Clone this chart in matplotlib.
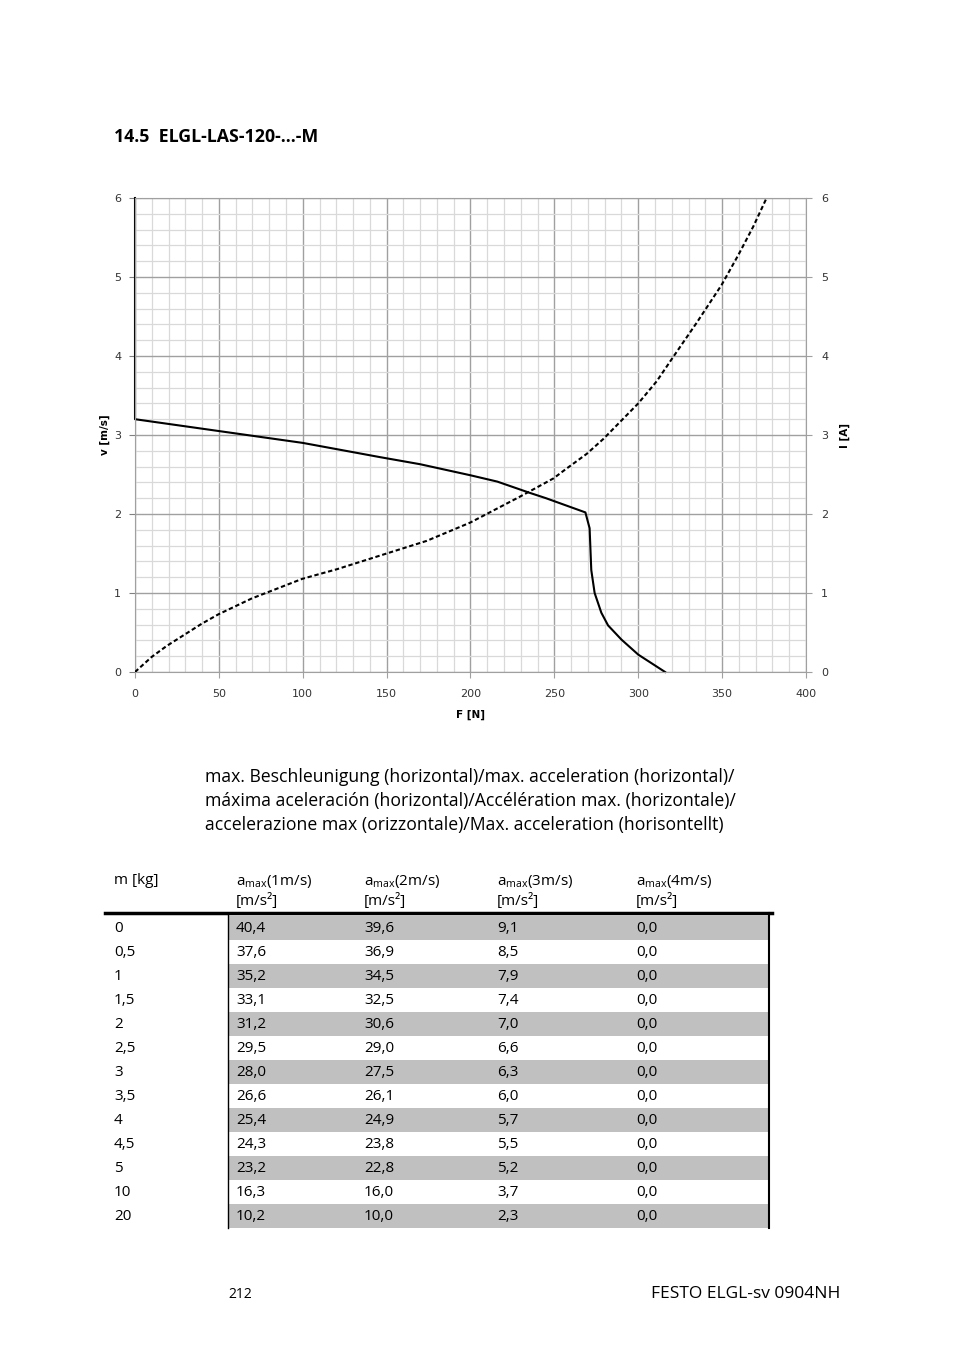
import matplotlib
matplotlib.use("Agg")
import matplotlib.pyplot as plt
from matplotlib.ticker import MultipleLocator

plt.rcParams['font.family'] = ['Open Sans', 'DejaVu Sans']
plt.rcParams['mathtext.fontset'] = 'custom'
plt.rcParams['mathtext.rm'] = 'Open Sans'
plt.rcParams['mathtext.it'] = 'Open Sans'

# speed curve v(F)
force_v = [0, 0, 50, 100, 146, 170, 200, 216, 235, 245, 268.5, 271, 272, 274, 278, 282, 290, 300, 316]
speed = [6.0, 3.20, 3.05, 2.90, 2.72, 2.63, 2.49, 2.41, 2.27, 2.20, 2.02, 1.82, 1.29, 1.00, 0.75, 0.59, 0.41, 0.22, 0.0]

# current curve I(F)
force_i = [0, 9.9, 18.9, 39.7, 49.7, 69.5, 99.8, 120.2, 150, 173.9, 199.7, 229.5, 249.4, 256.3,
           269.2, 279.2, 300, 311, 320.9, 334.8, 349.7, 359.7, 368.6, 376.5]
current = [0, 0.19, 0.33, 0.61, 0.73, 0.93, 1.18, 1.30, 1.50, 1.66, 1.89, 2.22, 2.45, 2.56,
           2.76, 2.95, 3.40, 3.68, 3.99, 4.42, 4.90, 5.28, 5.64, 6.0]

# acceleration table
masses = ['0', '0,5', '1', '1,5', '2', '2,5', '3', '3,5', '4', '4,5', '5', '10', '20']
a_1 = ['40,4', '37,6', '35,2', '33,1', '31,2', '29,5', '28,0', '26,6', '25,4', '24,3', '23,2', '16,3', '10,2']
a_2 = ['39,6', '36,9', '34,5', '32,5', '30,6', '29,0', '27,5', '26,1', '24,9', '23,8', '22,8', '16,0', '10,0']
a_3 = ['9,1', '8,5', '7,9', '7,4', '7,0', '6,6', '6,3', '6,0', '5,7', '5,5', '5,2', '3,7', '2,3']
a_4 = ['0,0'] * 13
headers = ['m [kg]', r'a$_{\mathrm{max}}$(1m/s)', r'a$_{\mathrm{max}}$(2m/s)',
           r'a$_{\mathrm{max}}$(3m/s)', r'a$_{\mathrm{max}}$(4m/s)']

W, H = 954, 1350
GRID_MAJOR = '#a0a0a0'
fig = plt.figure(figsize=(W / 100, H / 100), dpi=100)

# overlay in pixel coordinates for page text and table
page = fig.add_axes([0, 0, 1, 1])
page.set_xlim(0, W)
page.set_ylim(H, 0)
page.axis('off')

page.text(114, 137, '14.5  ELGL-LAS-120-...-M', fontsize=12.8, fontweight='bold',
          va='center', ha='left')

# chart
ax = fig.add_axes([135 / W, 1 - 672 / H, 671 / W, 474 / H])
ax.set_xlim(0, 400)
ax.set_ylim(0, 6)
ax.xaxis.set_major_locator(MultipleLocator(50))
ax.xaxis.set_minor_locator(MultipleLocator(10))
ax.yaxis.set_major_locator(MultipleLocator(1))
ax.yaxis.set_minor_locator(MultipleLocator(0.2))
ax.grid(which='minor', color='#d9d9d9', lw=0.9)
ax.grid(which='major', color=GRID_MAJOR, lw=1.0)
ax.set_axisbelow(True)
for s in ax.spines.values():
    s.set_color(GRID_MAJOR)

ax.tick_params(which='minor', length=0)
ax.tick_params(axis='y', which='major', length=4, color='#808080', labelsize=8,
               labelcolor='#333333', pad=6)
ax.tick_params(axis='x', which='major', length=4, color=GRID_MAJOR, labelsize=8,
               labelcolor='#333333', pad=8)
for lab in ax.get_xticklabels() + ax.get_yticklabels():
    lab.set_family('DejaVu Sans')

ax.plot(force_v, speed, color='black', lw=1.5, solid_joinstyle='round', clip_on=False)
ax.set_ylabel('v [m/s]', fontsize=7.5, fontweight='bold', family='DejaVu Sans', labelpad=3)
ax.set_xlabel('F [N]', fontsize=7.5, fontweight='bold', family='DejaVu Sans', labelpad=8)

ax2 = ax.twinx()
ax2.set_ylim(0, 6)
ax2.yaxis.set_major_locator(MultipleLocator(1))
ax2.tick_params(axis='y', length=4, color=GRID_MAJOR, labelsize=8, labelcolor='#333333', pad=7)
for lab in ax2.get_yticklabels():
    lab.set_family('DejaVu Sans')
for s in ax2.spines.values():
    s.set_visible(False)
ax2.plot(force_i, current, color='black', lw=1.5, ls=(0, (2.1, 1.3)))
ax2.set_ylabel('I [A]', fontsize=7.5, fontweight='bold', family='DejaVu Sans', labelpad=8)

# caption
caption = ['max. Beschleunigung (horizontal)/max. acceleration (horizontal)/',
           'máxima aceleración (horizontal)/Accélération max. (horizontale)/',
           'accelerazione max (orizzontale)/Max. acceleration (horisontellt)']
for k, line in enumerate(caption):
    page.text(205, 777 + 24 * k, line, fontsize=12.7, va='center', ha='left')

# table
col_x = [114, 236, 364, 497, 636]
row_y0, row_h = 927, 24
for cx, h in zip(col_x, headers):
    page.text(cx, 881, h, fontsize=11, va='center', ha='left')
for cx in col_x[1:]:
    page.text(cx, 901, '[m/s²]', fontsize=11, va='center', ha='left')

columns = [masses, a_1, a_2, a_3, a_4]
for i in range(len(masses)):
    y = row_y0 + row_h * i
    if i % 2 == 0:
        page.fill_between([228, 768], y - row_h / 2 + 0.5, y + row_h / 2 + 0.5,
                          color='#c0c0c0', lw=0)
    for cx, col in zip(col_x, columns):
        page.text(cx, y + 1.5, col[i], fontsize=11, va='center', ha='left')

table_bottom = row_y0 + row_h * (len(masses) - 1) + row_h / 2 + 1
page.plot([105, 772], [913, 913], color='black', lw=2.5)
page.plot([228, 228], [913, table_bottom], color='black', lw=1)
page.plot([769, 769], [913, table_bottom], color='black', lw=1.5)

# footer
page.text(228, 1294, '212', fontsize=10, va='center', ha='left')
page.text(840, 1294, 'FESTO ELGL-sv 0904NH', fontsize=12.5, va='center', ha='right')

fig.savefig('out.png', dpi=100)
